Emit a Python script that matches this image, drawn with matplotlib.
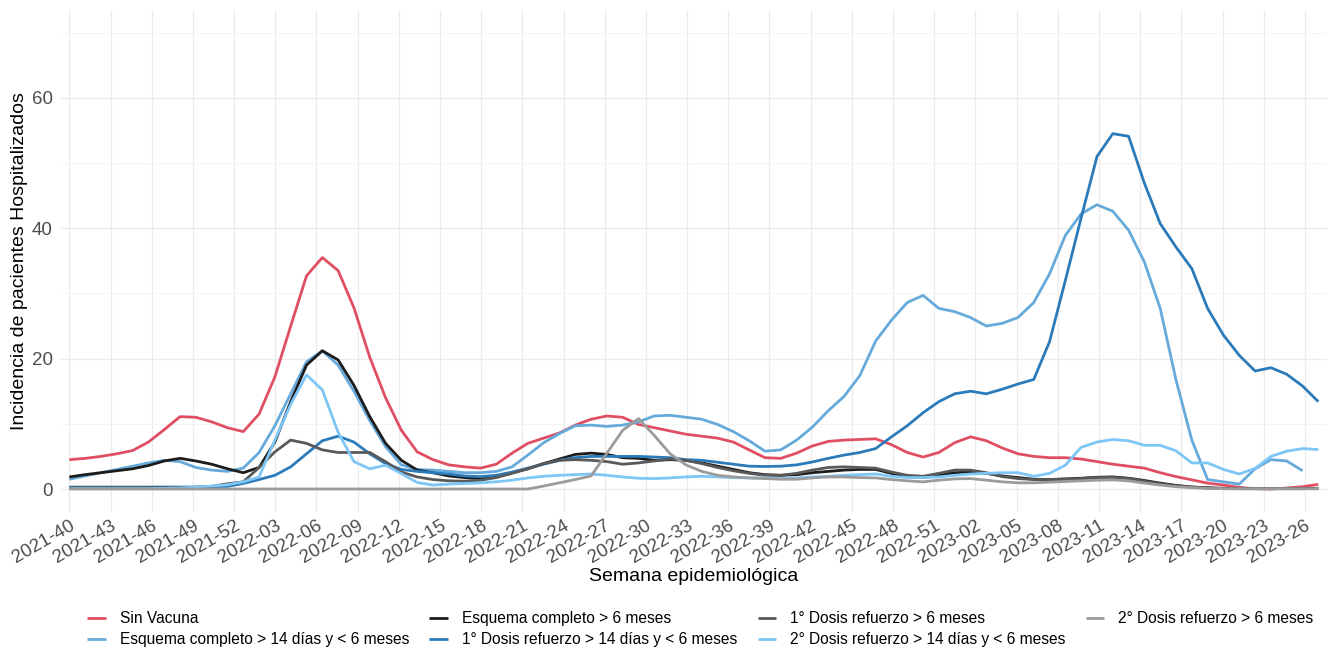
import numpy as np
import matplotlib
matplotlib.use("Agg")
import matplotlib.pyplot as plt

plt.rcParams['font.family'] = ['Liberation Sans', 'DejaVu Sans']

# etiquetas del eje x (cada 3 semanas)
week_labels = ['2021-40', '2021-43', '2021-46', '2021-49', '2021-52',
               '2022-03', '2022-06', '2022-09', '2022-12', '2022-15',
               '2022-18', '2022-21', '2022-24', '2022-27', '2022-30',
               '2022-33', '2022-36', '2022-39', '2022-42', '2022-45',
               '2022-48', '2022-51', '2023-02', '2023-05', '2023-08',
               '2023-11', '2023-14', '2023-17', '2023-20', '2023-23',
               '2023-26']

sin_vacuna = [4.5, 4.7, 5.0, 5.4, 5.9, 7.2, 9.1, 11.1, 11.0, 10.3,
              9.4, 8.8, 11.5, 17.2, 25.0, 32.7, 35.5, 33.5, 27.8, 20.2,
              14.0, 9.0, 5.7, 4.5, 3.7, 3.4, 3.2, 3.8, 5.5, 7.0,
              7.8, 8.6, 9.8, 10.7, 11.2, 11.0, 9.9, 9.4, 8.9, 8.4,
              8.1, 7.8, 7.2, 6.0, 4.8, 4.7, 5.5, 6.6, 7.3, 7.5,
              7.6, 7.7, 6.8, 5.6, 4.9, 5.6, 7.1, 8.0, 7.4, 6.3,
              5.4, 5.0, 4.8, 4.8, 4.6, 4.2, 3.8, 3.5, 3.2, 2.5,
              1.9, 1.4, 0.9, 0.6, 0.25, 0.05, 0.0, 0.15, 0.35, 0.7]

esq_14d = [1.5, 2.0, 2.5, 3.0, 3.5, 4.0, 4.4, 4.2, 3.3, 2.9,
           2.7, 3.2, 5.6, 9.7, 14.6, 19.5, 21.2, 19.0, 15.0, 10.5,
           6.5, 3.7, 3.0, 2.9, 2.7, 2.5, 2.5, 2.7, 3.4, 5.2,
           7.1, 8.5, 9.7, 9.8, 9.6, 9.8, 10.3, 11.2, 11.3, 11.0,
           10.7, 9.9, 8.8, 7.4, 5.8, 6.0, 7.5, 9.5, 12.0, 14.2,
           17.4, 22.7, 25.9, 28.6, 29.7, 27.7, 27.2, 26.3, 25.0, 25.4,
           26.3, 28.6, 33.0, 38.9, 42.2, 43.6, 42.6, 39.7, 34.8, 27.7,
           16.7, 7.5, 1.45, 1.1, 0.75, 3.1, 4.5, 4.3, 2.8, np.nan]

esq_6m = [1.85, 2.2, 2.5, 2.8, 3.1, 3.6, 4.3, 4.7, 4.3, 3.8,
          3.1, 2.5, 3.3, 7.2, 13.4, 19.0, 21.2, 19.8, 15.9, 11.1,
          7.0, 4.4, 2.9, 2.5, 2.0, 1.75, 1.6, 1.9, 2.5, 3.1,
          3.9, 4.6, 5.3, 5.5, 5.3, 4.8, 4.7, 4.4, 4.5, 4.4,
          4.0, 3.5, 3.0, 2.5, 2.2, 2.1, 2.2, 2.5, 2.7, 2.9,
          3.0, 3.0, 2.4, 1.9, 1.75, 2.1, 2.5, 2.6, 2.4, 2.0,
          1.75, 1.5, 1.45, 1.55, 1.65, 1.8, 1.85, 1.65, 1.3, 0.9,
          0.55, 0.3, 0.2, 0.1, 0.05, 0.05, 0.05, 0.05, 0.05, 0.1]

ref1_14d = [0.3, 0.3, 0.3, 0.3, 0.3, 0.3, 0.3, 0.3, 0.3, 0.35,
            0.4, 0.85, 1.45, 2.1, 3.4, 5.4, 7.4, 8.1, 7.2, 5.4,
            3.9, 3.0, 2.7, 2.5, 2.3, 2.0, 1.9, 2.1, 2.6, 3.2,
            3.8, 4.4, 4.8, 5.0, 5.0, 5.0, 5.0, 4.9, 4.8, 4.5,
            4.4, 4.1, 3.8, 3.5, 3.45, 3.5, 3.7, 4.15, 4.7, 5.2,
            5.6, 6.2, 8.0, 9.7, 11.7, 13.4, 14.6, 15.0, 14.6, 15.3,
            16.1, 16.8, 22.6, 32.0, 41.6, 51.0, 54.5, 54.1, 46.9, 40.7,
            37.1, 33.8, 27.7, 23.6, 20.5, 18.1, 18.6, 17.6, 15.8, 13.4]

ref1_6m = [0.2, 0.2, 0.2, 0.2, 0.2, 0.2, 0.2, 0.2, 0.25, 0.4,
           0.8, 1.1, 3.3, 5.7, 7.5, 7.0, 6.0, 5.6, 5.6, 5.6,
           4.2, 2.6, 1.85, 1.45, 1.25, 1.2, 1.35, 1.75, 2.4, 3.1,
           3.9, 4.4, 4.5, 4.4, 4.2, 3.8, 4.0, 4.3, 4.6, 4.4,
           3.9, 3.3, 2.8, 2.4, 2.1, 2.1, 2.4, 2.9, 3.3, 3.4,
           3.3, 3.2, 2.6, 2.1, 1.95, 2.4, 2.9, 2.9, 2.5, 1.9,
           1.6, 1.45, 1.45, 1.5, 1.6, 1.75, 1.8, 1.6, 1.2, 0.8,
           0.5, 0.3, 0.15, 0.05, 0.05, 0.05, 0.05, 0.05, 0.05, 0.05]

ref2_14d = [0.05, 0.05, 0.05, 0.05, 0.05, 0.05, 0.1, 0.15, 0.3, 0.45,
            0.65, 1.1, 1.85, 7.5, 13.0, 17.5, 15.2, 8.7, 4.2, 3.1,
            3.65, 2.35, 1.0, 0.6, 0.75, 0.85, 0.95, 1.1, 1.35, 1.7,
            1.95, 2.1, 2.2, 2.3, 2.1, 1.85, 1.65, 1.6, 1.7, 1.85,
            1.95, 1.85, 1.75, 1.7, 1.7, 1.6, 1.7, 1.85, 1.95, 2.1,
            2.2, 2.3, 1.95, 1.75, 1.75, 1.85, 2.1, 2.3, 2.4, 2.5,
            2.5, 1.95, 2.4, 3.65, 6.4, 7.2, 7.6, 7.4, 6.7, 6.7,
            5.85, 4.0, 4.0, 3.0, 2.3, 3.15, 5.0, 5.8, 6.2, 6.05]

ref2_6m = [0, 0, 0, 0, 0, 0, 0, 0, 0, 0,
           0, 0, 0, 0, 0, 0, 0, 0, 0, 0,
           0, 0, 0, 0, 0, 0, 0, 0, 0, 0,
           0.45, 0.95, 1.45, 2.0, 5.5, 9.0, 10.8, 8.2, 5.4, 3.7,
           2.7, 2.1, 1.85, 1.7, 1.6, 1.5, 1.5, 1.7, 1.85, 1.85,
           1.75, 1.7, 1.45, 1.25, 1.1, 1.35, 1.55, 1.6, 1.35, 1.1,
           0.95, 0.95, 1.05, 1.15, 1.25, 1.35, 1.4, 1.25, 0.9, 0.6,
           0.35, 0.2, 0.1, 0.05, 0.05, 0.05, 0.05, 0.05, 0.05, 0.05]

series = [
    ('Sin Vacuna', sin_vacuna, '#E04E63'),
    ('Esquema completo > 14 días y < 6 meses', esq_14d, '#65AADB'),
    ('Esquema completo > 6 meses', esq_6m, '#1C1C1C'),
    ('1° Dosis refuerzo > 14 días y < 6 meses', ref1_14d, '#2B7BBA'),
    ('1° Dosis refuerzo > 6 meses', ref1_6m, '#595959'),
    ('2° Dosis refuerzo > 14 días y < 6 meses', ref2_14d, '#7DC6F6'),
    ('2° Dosis refuerzo > 6 meses', ref2_6m, '#9B9B9B'),
]

x = np.arange(len(sin_vacuna))
tick_pos = np.arange(len(week_labels)) * 2.605

fig = plt.figure(figsize=(13.29, 6.52), dpi=100)
ax = fig.add_axes([0.0459, 0.215, 0.9526, 0.770])

for i, (name, vals, col) in enumerate(series):
    ax.plot(x, vals, color=col, lw=2.0, label=name, zorder=3 + i,
            solid_joinstyle='round', solid_capstyle='butt')

ax.set_xlim(-0.53, 79.55)
ax.set_ylim(-3.5, 73.5)
ax.set_xticks(tick_pos)
ax.set_xticklabels(week_labels, rotation=30, ha='right', va='top',
                   rotation_mode='anchor')
ax.set_yticks([0, 20, 40, 60])
ax.set_yticks([10, 30, 50, 70], minor=True)

ax.grid(which='major', color='#EBEBEB', lw=0.9)
ax.grid(which='minor', axis='y', color='#F3F3F3', lw=0.6)
ax.set_axisbelow(True)
for s in ax.spines.values():
    s.set_visible(False)
ax.tick_params(axis='both', which='both', length=0, labelsize=13.5,
               labelcolor='#4D4D4D')
ax.tick_params(axis='y', pad=6)
ax.tick_params(axis='x', pad=4)

ax.set_xlabel('Semana epidemiológica', fontsize=14, labelpad=1)
ax.set_ylabel('Incidencia de pacientes Hospitalizados', fontsize=14,
              labelpad=3)

fig.legend(loc='center', bbox_to_anchor=(0.527, 0.035), ncol=4,
           frameon=False, fontsize=11.2, handlelength=1.2,
           handletextpad=0.9, columnspacing=1.3, labelspacing=0.4)

fig.savefig('out.png', dpi=100)
